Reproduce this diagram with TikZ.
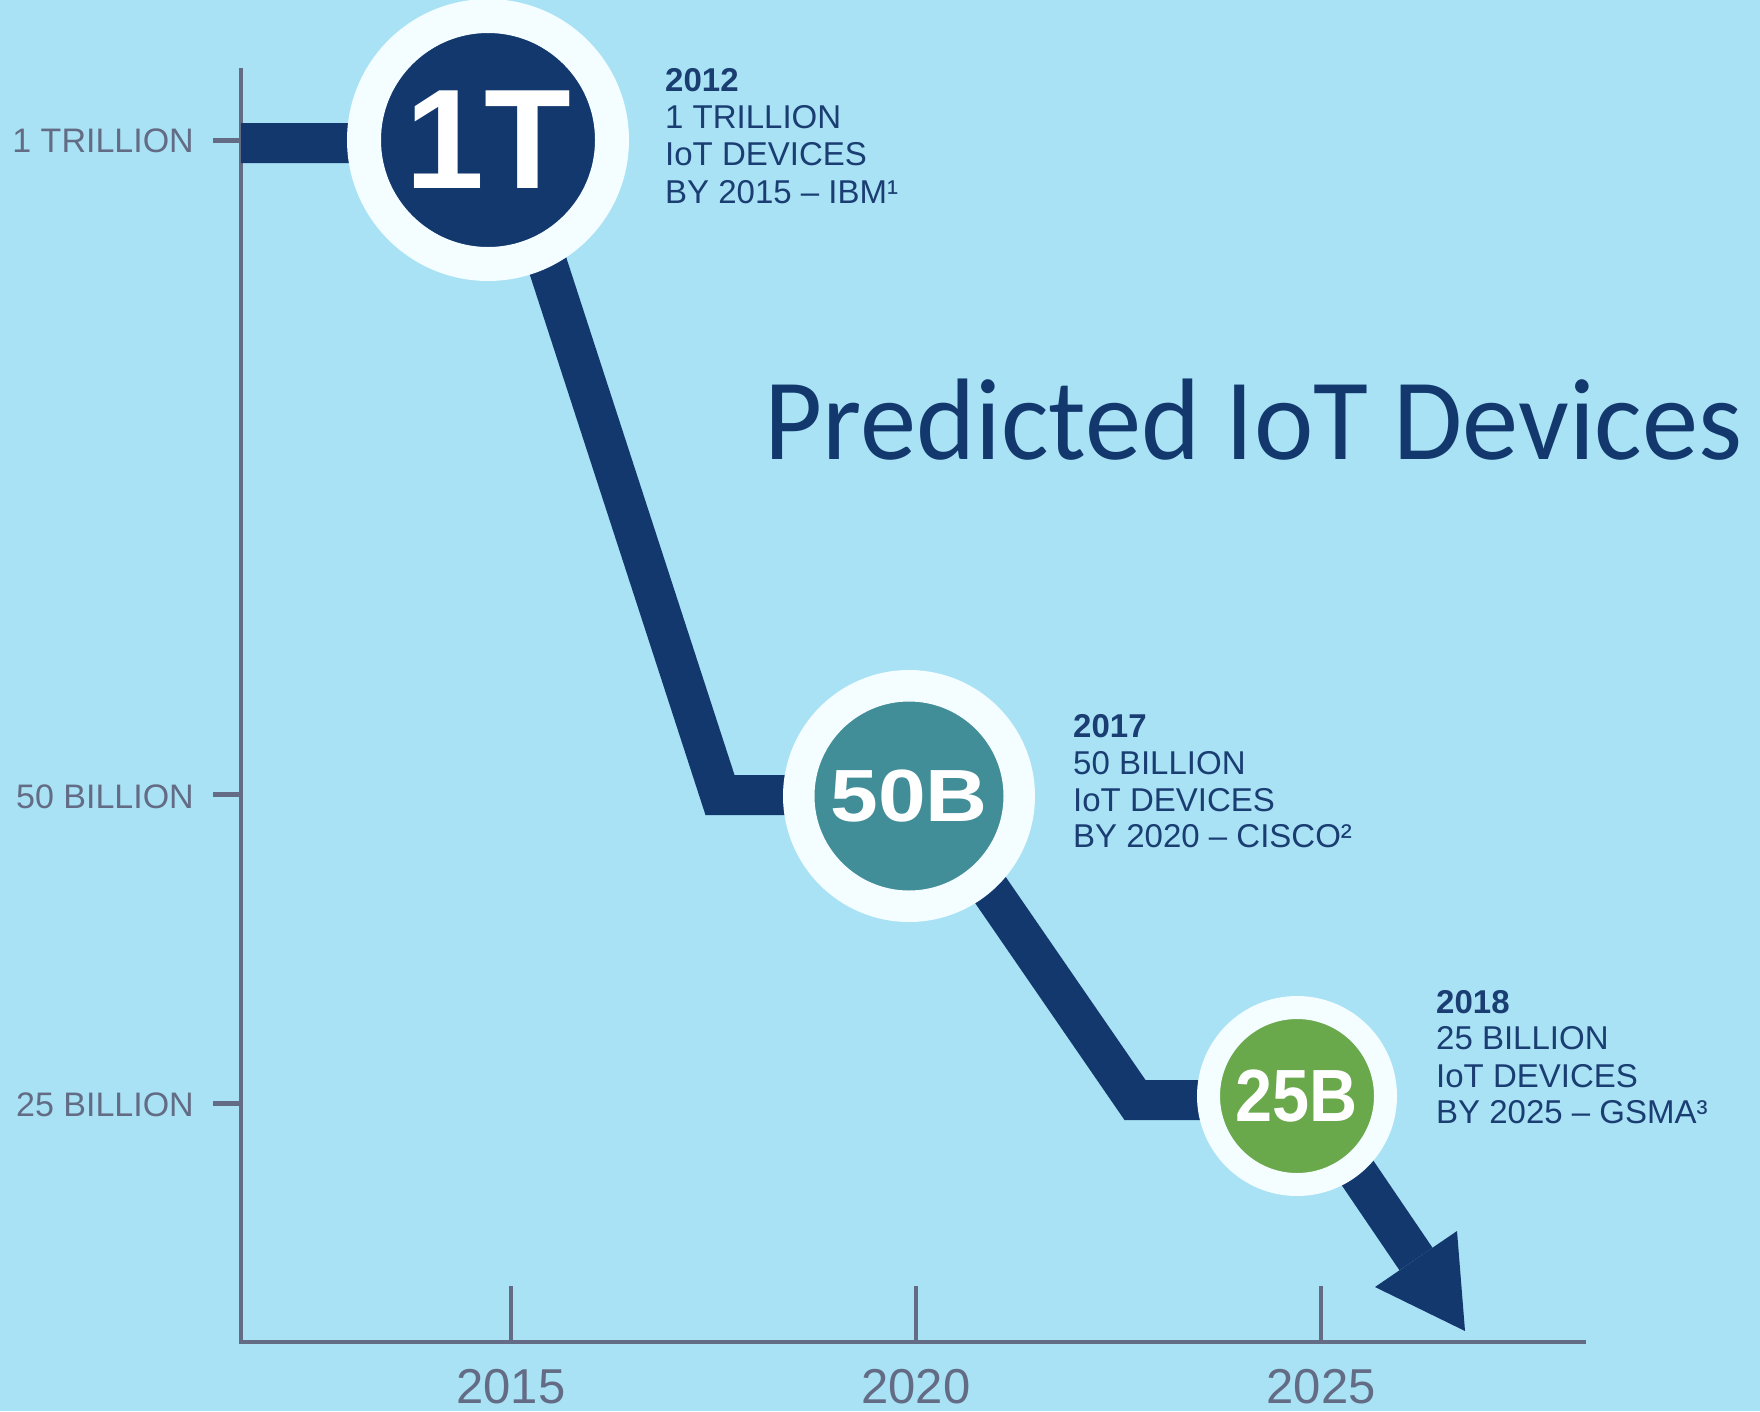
\documentclass[tikz,border=0pt]{standalone}
\usepackage{fontspec}
\setmainfont{Liberation Sans}
\newfontfamily\titlefont{Carlito}
\definecolor{sky}{RGB}{168,226,244}
\definecolor{navy}{RGB}{18,56,110}
\definecolor{inknavy}{RGB}{26,61,114}
\definecolor{teal}{RGB}{66,142,152}
\definecolor{leaf}{RGB}{106,168,76}
\definecolor{ring}{RGB}{244,253,255}
\definecolor{axisgray}{RGB}{99,107,133}
\begin{document}
\begin{tikzpicture}[x=1pt,y=-1pt,
  axisline/.style={draw=axisgray,line width=4pt},
  tickmark/.style={draw=axisgray,line width=5pt},
  vlabel/.style={anchor=base east,inner sep=0pt,text=axisgray,font=\fontsize{34}{34}\selectfont},
  ylabel/.style={anchor=base,inner sep=0pt,text=axisgray,font=\fontsize{49}{49}\selectfont},
  trend/.style={draw=navy,line width=40pt,miter limit=10},
  bubble/.style={circle,inner sep=0pt,draw=ring,text=white},
  note/.style={anchor=base west,inner sep=0pt,text=inknavy,font=\fontsize{33}{37}\selectfont},
  notehead/.style={note,font=\fontsize{33}{37}\selectfont\bfseries}
]
% background and page size
\fill[sky] (0,0) rectangle (1760,1411);
\useasboundingbox (0,0) rectangle (1760,1411);

% axes
\coordinate (ytop) at (241,68);
\coordinate (origin) at (241,1342);
\coordinate (xend) at (1586,1342);
\draw[axisline] (ytop) -- (origin) -- (xend);

% value ticks and labels
\coordinate (t1a) at (213,140);  \coordinate (t1b) at (241,140);
\coordinate (t2a) at (213,794);  \coordinate (t2b) at (241,794);
\coordinate (t3a) at (213,1103); \coordinate (t3b) at (241,1103);
\draw[tickmark] (t1a) -- (t1b);
\draw[tickmark] (t2a) -- (t2b);
\draw[tickmark] (t3a) -- (t3b);
\node[vlabel] (v1) at (194,152) {1 TRILLION};
\node[vlabel] (v2) at (194,808) {50 BILLION};
\node[vlabel] (v3) at (194,1116) {25 BILLION};

% year ticks and labels
\coordinate (x1a) at (511,1286);  \coordinate (x1b) at (511,1342);
\coordinate (x2a) at (916,1286);  \coordinate (x2b) at (916,1342);
\coordinate (x3a) at (1321,1286); \coordinate (x3b) at (1321,1342);
\draw[axisline] (x1a) -- (x1b);
\draw[axisline] (x2a) -- (x2b);
\draw[axisline] (x3a) -- (x3b);
\node[ylabel] (y1) at (511,1403) {2015};
\node[ylabel] (y2) at (916,1403) {2020};
\node[ylabel] (y3) at (1321,1403) {2025};

% falling trend line
\coordinate (p0) at (241,143);
\coordinate (p1) at (508,143);
\coordinate (p2) at (720,795);
\coordinate (p3) at (925,795);
\coordinate (p4) at (1135,1100);
\coordinate (p5) at (1308,1100);
\coordinate (p6) at (1416,1259);
\coordinate (tip) at (1465,1331);
\coordinate (hl) at (1457,1231);
\coordinate (hr) at (1375,1287);
\draw[trend] (p0) -- (p1) -- (p2) -- (p3) -- (p4) -- (p5) -- (p6);
\fill[navy] (hl) -- (tip) -- (hr) -- cycle;

% forecast bubbles
\node[bubble,fill=navy,line width=34pt,minimum size=248pt] (c1T) at (488,140)
  {\fontsize{142}{142}\selectfont\bfseries 1T};
\node[bubble,fill=teal,line width=31.5pt,minimum size=220.5pt] (c50B) at (909,796)
  {\fontsize{74}{74}\selectfont\bfseries\scalebox{1.16}[1]{50B}};
\node[bubble,fill=leaf,line width=23pt,minimum size=177pt] (c25B) at (1297,1096)
  {\fontsize{74}{74}\selectfont\bfseries\scalebox{0.9}[1]{25B}};

% forecast notes
\node[notehead] (a1) at (665,91)  {2012};
\node[note]     (a2) at (665,128) {1 TRILLION};
\node[note]     (a3) at (665,165) {IoT DEVICES};
\node[note]     (a4) at (665,203) {BY 2015 – IBM¹};

\node[notehead] (b1) at (1073,737) {2017};
\node[note]     (b2) at (1073,774) {50 BILLION};
\node[note]     (b3) at (1073,811) {IoT DEVICES};
\node[note]     (b4) at (1073,847) {BY 2020 – CISCO²};

\node[notehead] (d1) at (1436,1013) {2018};
\node[note]     (d2) at (1436,1049) {25 BILLION};
\node[note]     (d3) at (1436,1087) {IoT DEVICES};
\node[note]     (d4) at (1436,1123) {BY 2025 – GSMA³};

% title
\node[anchor=base west,inner sep=0pt,text=navy] (title) at (764,459)
  {\titlefont\fontsize{116}{116}\selectfont\scalebox{0.97}[1]{Predicted IoT Devices}};
\end{tikzpicture}
\end{document}
